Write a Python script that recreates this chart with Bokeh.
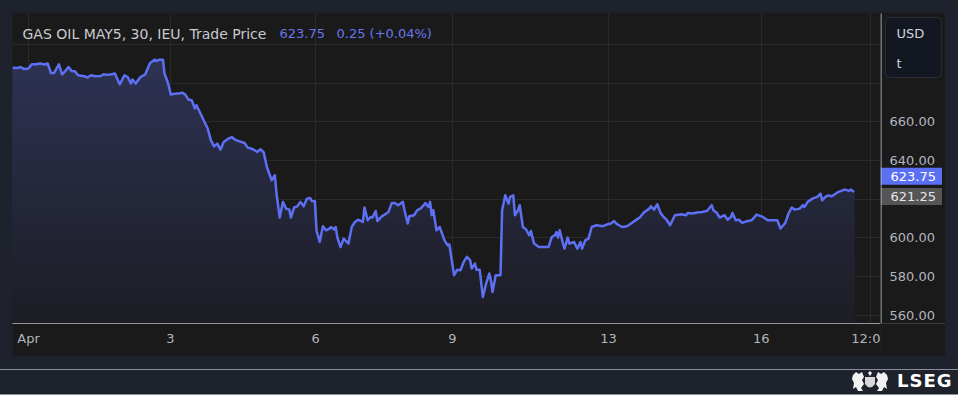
import numpy as np
from bokeh.plotting import figure
from bokeh.models import (Range1d, FixedTicker, Label, BoxAnnotation, Grid,
                          Div, Spacer)
from bokeh.core.properties import value
from bokeh.layouts import column, row
from bokeh.embed import file_html
from bokeh.resources import INLINE

# ---------------- data (30-minute bars, compressed trading time) ----------------
bar = [0, 3, 5, 7, 10, 12, 15, 17, 20, 22, 24, 26, 29, 31, 33, 35, 37, 39, 41, 45,
       47, 49, 52, 55, 57, 59, 62, 64, 67, 70, 72, 74, 75, 77, 80, 83, 84, 86, 89, 90,
       92, 94, 95, 97, 99, 102, 104, 106, 108, 110, 112, 114, 115, 118, 120, 122, 124, 126, 128, 130,
       132, 135, 137, 139, 141, 145, 147, 150, 153, 155, 157, 159, 162, 164, 165, 167, 169, 171, 173, 174,
       176, 178, 180, 182, 184, 186, 187, 189, 190, 192, 194, 196, 198, 199, 201, 202, 203, 205, 207, 210,
       212, 214, 216, 219, 220, 222, 224, 225, 227, 228, 231, 233, 235, 237, 239, 241, 244, 245, 247, 248,
       251, 253, 255, 257, 258, 260, 261, 262, 263, 265, 267, 270, 272, 273, 276, 278, 280, 282, 284, 286,
       287, 289, 290, 292, 294, 296, 298, 299, 300, 302, 305, 306, 308, 310, 311, 313, 314, 316, 317, 319,
       321, 323, 324, 326, 329, 332, 335, 337, 339, 340, 341, 342, 344, 345, 347, 348, 351, 353, 355, 356,
       358, 360, 362, 365, 369, 372, 374, 376, 378, 381, 384, 387, 390, 392, 395, 398, 399, 401, 403, 405,
       407, 409, 411, 414, 418, 421, 422, 425, 428, 431, 434, 437, 438, 440, 442, 445, 447, 449, 450, 452,
       454, 456, 459, 462, 465, 469, 472, 475, 478, 480, 483, 485, 487, 489, 492, 494, 495, 497, 500, 503,
       505, 506, 508, 510, 512, 514, 516, 520, 523, 524, 526]

price = [688.1, 688.0, 688.5, 687.5, 687.7, 689.9, 689.9, 690.3, 689.8, 690.3, 685.4, 685.4, 689.9, 684.7, 686.4, 688.5, 686.4, 686.3, 684.2, 683.7,
         683.0, 684.2, 683.7, 683.8, 684.7, 684.4, 684.7, 685.1, 679.5, 684.2, 683.3, 679.9, 682.0, 679.9, 683.3, 684.7, 686.8, 690.6, 692.3, 691.6,
         692.3, 692.3, 685.1, 680.7, 674.2, 674.7, 674.7, 675.2, 674.2, 671.6, 671.3, 667.0, 668.7, 663.5, 660.0, 656.6, 650.5, 647.4, 648.8, 645.7,
         649.6, 651.4, 652.2, 650.9, 650.2, 649.1, 646.7, 646.0, 644.5, 645.9, 644.3, 636.7, 629.8, 632.4, 622.9, 610.5, 618.6, 615.1, 614.6, 610.5,
         615.7, 616.3, 618.6, 616.3, 620.3, 620.6, 619.1, 618.9, 603.9, 597.8, 606.0, 603.9, 604.6, 605.6, 604.3, 605.6, 600.4, 595.2, 599.6, 597.0,
         605.6, 608.2, 609.4, 608.2, 615.7, 609.1, 610.8, 610.5, 613.9, 608.7, 611.2, 612.2, 613.4, 618.0, 618.0, 616.9, 618.6, 614.3, 607.4, 611.2,
         611.7, 614.3, 615.1, 616.9, 618.0, 616.0, 618.6, 611.7, 614.3, 603.9, 605.6, 598.7, 596.1, 596.6, 580.6, 583.5, 583.2, 587.5, 590.1, 588.4,
         584.1, 586.6, 583.5, 583.5, 569.3, 576.3, 581.5, 578.0, 571.9, 580.6, 580.6, 614.3, 622.0, 617.7, 621.2, 622.0, 611.7, 614.3, 616.9, 605.6,
         604.3, 601.3, 603.5, 597.0, 595.2, 595.2, 595.2, 600.4, 601.3, 603.0, 600.1, 603.9, 597.3, 594.4, 600.1, 597.0, 597.8, 594.4, 597.8, 594.4,
         598.7, 599.6, 605.6, 606.5, 606.0, 607.0, 607.4, 608.7, 607.0, 605.6, 606.0, 607.7, 609.4, 610.5, 613.4, 615.1, 616.3, 614.6, 617.4, 612.9,
         610.8, 609.1, 606.5, 611.7, 612.2, 611.7, 612.9, 612.6, 613.1, 613.4, 613.9, 616.9, 614.3, 613.1, 610.5, 611.7, 609.4, 610.8, 612.9, 609.1,
         609.4, 607.7, 608.6, 609.1, 612.0, 610.8, 609.1, 609.1, 609.1, 604.8, 607.7, 612.6, 615.7, 614.6, 615.1, 616.9, 616.0, 618.6, 620.3, 621.2,
         622.9, 619.4, 621.2, 622.0, 621.5, 622.6, 623.7, 625.0, 624.3, 625.0, 623.75]

assert len(bar) == len(price)

tick_bars = [10, 98.75, 189.4, 275, 372.5, 468, 536]
tick_labels = ["Apr", "3", "6", "9", "13", "16", "12:0"]
price_ticks = [560, 580, 600, 640, 660]
grid_levels = [560, 580, 600, 620, 640, 660, 680, 700]
last_price = 623.75
ref_price = 621.25
title_name = "GAS OIL MAY5, 30, IEU, Trade Price"
title_last = "623.75"
title_change = "0.25 (+0.04%)"
unit_top = "USD"
unit_bottom = "t"

# ---------------- styling ----------------
PANEL = "#1a1a1a"
GRID = "#2a2a2a"
LINE = "#5d70f3"
TXT = "#b2b5be"
FONT = "DejaVu Sans"

X_LO, X_HI = 0, 542.5
Y_LO, Y_HI = 555.6, 716.2
yr = Range1d(Y_LO, Y_HI)

# ---------------- main pane ----------------
p = figure(width=868, height=344, x_range=Range1d(X_LO, X_HI), y_range=yr,
           output_backend="svg", toolbar_location=None, tools="", y_axis_location=None,
           min_border_left=0, min_border_right=0, min_border_top=1, min_border_bottom=33)
p.background_fill_color = PANEL
p.border_fill_color = PANEL
p.outline_line_color = None

# gradient-like area fill under the line (opaque bands drawn top-down)
x_arr = np.array(bar, dtype=float)
y_arr = np.array(price, dtype=float)
top_rgb = np.array([47, 51, 86])
bot_rgb = np.array([28, 29, 36])
n_bands = 40
edges = np.linspace(Y_LO, 700, n_bands + 1)
for k in range(n_bands - 1, -1, -1):
    hi = edges[k + 1] if k < n_bands - 1 else Y_HI
    frac = (k + 0.5) / n_bands
    c = bot_rgb + (top_rgb - bot_rgb) * frac
    col = "#%02x%02x%02x" % tuple(int(round(v)) for v in c)
    p.varea(x=x_arr, y1=np.full_like(y_arr, Y_LO), y2=np.minimum(y_arr, hi),
            fill_color=col, fill_alpha=1.0)

p.line(x_arr, y_arr, line_color=LINE, line_width=2.5, line_join="round")

# grids
p.xgrid[0].ticker = FixedTicker(ticks=tick_bars)
if len(p.ygrid) == 0:
    p.add_layout(Grid(dimension=1, ticker=FixedTicker(ticks=grid_levels)))
for g in p.center:
    if isinstance(g, Grid):
        if g.dimension == 1:
            g.ticker = FixedTicker(ticks=grid_levels)
        g.grid_line_color = GRID
        g.grid_line_width = 1

# time axis
xa = p.xaxis[0]
xa.ticker = FixedTicker(ticks=tick_bars)
xa.major_label_overrides = {t: l for t, l in zip(tick_bars, tick_labels)}
xa.axis_line_color = "#9598a1"
xa.major_tick_line_color = None
xa.minor_tick_line_color = None
xa.major_tick_out = 0
xa.major_tick_in = 0
xa.major_label_standoff = 7
xa.major_label_text_color = TXT
xa.major_label_text_font = FONT
xa.major_label_text_font_size = "13px"

# title legend
p.add_layout(Label(x=10, y=290, x_units="screen", y_units="screen", text=title_name,
                   text_align="left", text_baseline="middle", text_font=FONT,
                   text_font_size="14px", text_color="#c8cbd2"))
p.add_layout(Label(x=267, y=290, x_units="screen", y_units="screen", text=title_last,
                   text_align="left", text_baseline="middle", text_font=FONT,
                   text_font_size="13px", text_color="#6677ee"))
p.add_layout(Label(x=324, y=290, x_units="screen", y_units="screen", text=title_change,
                   text_align="left", text_baseline="middle", text_font=FONT,
                   text_font_size="13px", text_color="#6677ee"))

# ---------------- price scale pane ----------------
pr = figure(width=65, height=344, x_range=Range1d(0, 65), y_range=yr,
            output_backend="svg", toolbar_location=None, tools="",
            x_axis_location=None, y_axis_location=None,
            min_border_left=0, min_border_right=0, min_border_top=1, min_border_bottom=33)
pr.background_fill_color = PANEL
pr.border_fill_color = PANEL
pr.outline_line_color = None
pr.xgrid.visible = False
pr.ygrid.visible = False

pr.text(x=[9] * len(price_ticks), y=price_ticks, text=[f"{v:.2f}" for v in price_ticks],
        text_align="left", text_baseline="middle", text_font=value(FONT),
        text_font_size="13px", text_color=TXT)

# separator lines
pr.add_layout(BoxAnnotation(left=0, right=1, bottom=-33, top=311,
                            left_units="screen", right_units="screen",
                            bottom_units="screen", top_units="screen",
                            fill_color="#c8c8c8", fill_alpha=1, line_color=None, level="overlay"))
pr.add_layout(BoxAnnotation(left=0, right=65, bottom=-1, top=0,
                            left_units="screen", right_units="screen",
                            bottom_units="screen", top_units="screen",
                            fill_color="#9598a1", fill_alpha=1, line_color=None, level="overlay"))

# unit box
pr.add_layout(Label(x=5, y=306, x_units="screen", y_units="screen", text=unit_top,
                    text_align="left", text_baseline="top", text_font=FONT,
                    text_font_size="13px", text_color="#d1d4dc",
                    padding=dict(left=11, right=17, top=8, bottom=37),
                    background_fill_color="#131722", border_line_color="#2a2e39",
                    border_radius=4))
pr.add_layout(Label(x=16, y=260, x_units="screen", y_units="screen", text=unit_bottom,
                    text_align="left", text_baseline="middle", text_font=FONT,
                    text_font_size="13px", text_color="#d1d4dc"))

# price tags
ref_tag_y = ref_price + 0.2
last_tag_y = max(last_price, ref_tag_y + 10.4)
pr.add_layout(Label(x=0, y=ref_tag_y, x_units="screen", y_units="data", text=f"{ref_price:.2f}",
                    text_align="left", text_baseline="middle", text_font=FONT,
                    text_font_size="13px", text_color="#e6e6e6",
                    padding=dict(left=10, right=6, top=4, bottom=4),
                    background_fill_color="#555555"))
pr.add_layout(Label(x=0, y=last_tag_y, x_units="screen", y_units="data", text=f"{last_price:.2f}",
                    text_align="left", text_baseline="middle", text_font=FONT,
                    text_font_size="13px", text_color="#ffffff",
                    padding=dict(left=10, right=6, top=4, bottom=4),
                    background_fill_color="#5b6ff5"))

# ---------------- footer strip ----------------
crest = ('<svg width="38" height="21" viewBox="0 0 38 21" style="position:absolute;left:851px;top:15px;">'
         '<g fill="#f2f2f2">'
         '<path d="M2 4 L5 1 L8 3 L11 1 L13 6 L11 9 L13 13 L10 17 L12 20 L7 20 L5 16 L2 18 L3 12 L1 8 Z"/>'
         '<path d="M14 6 h10 v7 q-5 7 -10 0 z" fill="#d8d8d8"/>'
         '<path d="M17 2 l2 -2 l2 2 l-2 3 z"/>'
         '<path d="M36 4 L33 1 L30 3 L27 1 L25 6 L27 9 L25 13 L28 17 L26 20 L31 20 L33 16 L36 18 L35 12 L37 8 Z"/>'
         '</g></svg>')
strip = Div(text=('<div style="position:relative;width:958px;height:39px;overflow:visible;">'
                  '<div style="position:absolute;left:0;top:13px;width:958px;height:1px;background:#8c8f99;"></div>'
                  '<div style="position:absolute;left:0;top:38px;width:958px;height:1px;background:#8c8f99;"></div>'
                  + crest +
                  '<div style="position:absolute;left:897px;top:16px;font-family:\'DejaVu Sans\';font-weight:600;'
                  'font-size:18px;line-height:18px;letter-spacing:1px;color:#ffffff;">LSEG</div>'
                  '</div>'),
            width=958, height=39, margin=0)

layout = column(Spacer(height=12), row(Spacer(width=12), p, pr), strip)

html = file_html(layout, INLINE, title="GAS OIL")
html = html.replace("</head>", "<style>html,body{background:#1e222d;}</style></head>", 1)
with open("out.html", "w") as f:
    f.write(html)
